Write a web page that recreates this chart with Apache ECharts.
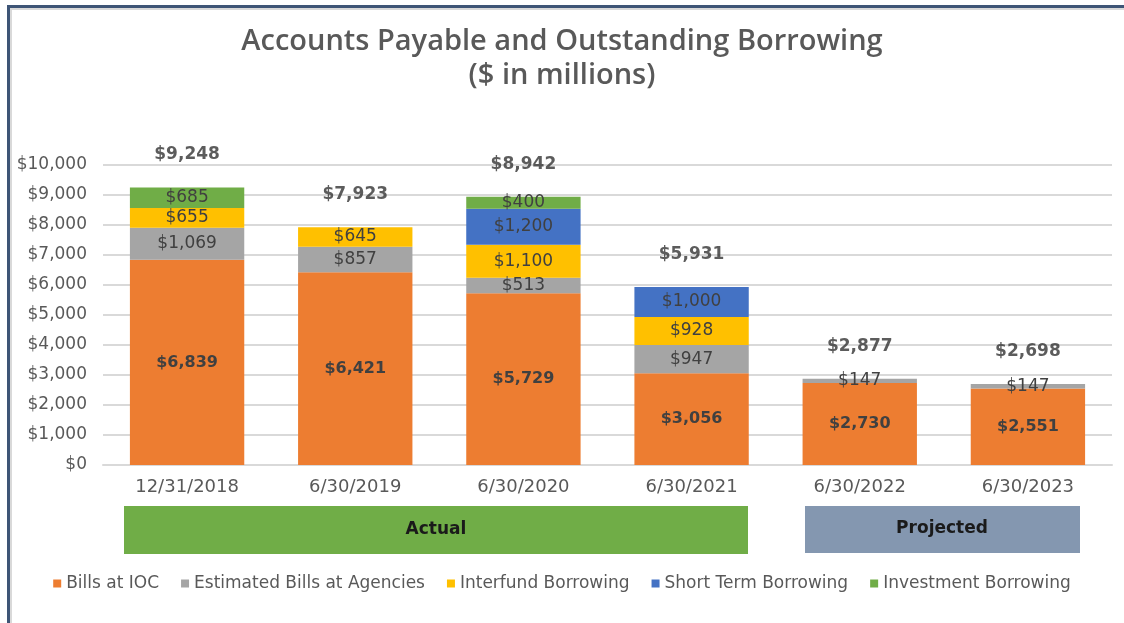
<!DOCTYPE html>
<html>
<head>
<meta charset="utf-8">
<script src="https://cdn.jsdelivr.net/npm/echarts@6/dist/echarts.min.js"></script>
<style>
html,body{margin:0;padding:0;background:#fff;}
#frame{position:absolute;left:7px;top:5px;width:1117px;height:618px;border-left:3px solid #3E5576;border-top:3px solid #3E5576;box-sizing:border-box;}
#frame:after{content:"";position:absolute;left:0;top:0;right:0;bottom:0;border-left:2px solid #d9d9d9;border-top:2px solid #d9d9d9;}
#chart{position:absolute;left:0;top:0;width:1124px;height:623px;}
</style>
</head>
<body>
<div id="frame"></div>
<div id="chart"></div>
<script>
const categories = ['12/31/2018', '6/30/2019', '6/30/2020', '6/30/2021', '6/30/2022', '6/30/2023'];
const seriesNames = ['Bills at IOC', 'Estimated Bills at Agencies', 'Interfund Borrowing', 'Short Term Borrowing', 'Investment Borrowing'];
const billsAtIOC = [6839, 6421, 5729, 3056, 2730, 2551];
const estimatedBillsAtAgencies = [1069, 857, 513, 947, 147, 147];
const interfundBorrowing = [655, 645, 1100, 928, null, null];
const shortTermBorrowing = [null, null, 1200, 1000, null, null];
const investmentBorrowing = [685, null, 400, null, null, null];
const yTicks = [0, 1000, 2000, 3000, 4000, 5000, 6000, 7000, 8000, 9000, 10000];
const periodLabels = ['Actual', 'Projected'];

const colors = ['#ED7D31', '#A5A5A5', '#FFC000', '#4472C4', '#70AD47'];
const allSeries = [billsAtIOC, estimatedBillsAtAgencies, interfundBorrowing, shortTermBorrowing, investmentBorrowing];
const totals = categories.map((c, i) => allSeries.reduce((s, arr) => s + (arr[i] || 0), 0));

const fmt = v => '$' + Number(v).toLocaleString('en-US');
const FONT = 'DejaVu Sans';

const chart = echarts.init(document.getElementById('chart'), null, {renderer: 'canvas'});

const barSeries = allSeries.map((arr, k) => ({
  name: seriesNames[k],
  type: 'bar',
  stack: 'total',
  barWidth: '68%',
  data: arr,
  itemStyle: {color: colors[k]},
  label: {
    show: true,
    position: 'inside',
    formatter: p => p.value == null ? '' : fmt(p.value),
    fontFamily: FONT,
    fontSize: k === 0 ? 16 : 17,
    fontWeight: k === 0 ? 'bold' : 'normal',
    color: '#404040'
  },
  emphasis: {disabled: true},
  animation: false
}));

const option = {
  animation: false,
  title: {
    text: 'Accounts Payable and Outstanding Borrowing\n($ in millions)',
    left: 'center',
    top: 20,
    textStyle: {fontFamily: 'Open Sans', fontSize: 29, fontWeight: 600, color: '#595959', lineHeight: 34}
  },
  legend: {
    bottom: 26,
    left: 'center',
    itemWidth: 8,
    itemHeight: 8,
    itemGap: 22,
    icon: 'rect',
    data: seriesNames,
    textStyle: {fontFamily: FONT, fontSize: 17, color: '#595959'}
  },
  grid: {left: 103, right: 12, top: 165, bottom: 158, containLabel: false},
  xAxis: {
    type: 'category',
    data: categories,
    axisLine: {lineStyle: {color: '#d9d9d9', width: 2}},
    axisTick: {show: false},
    axisLabel: {fontFamily: FONT, fontSize: 18, color: '#595959', margin: 13}
  },
  yAxis: {
    type: 'value',
    min: yTicks[0],
    max: yTicks[yTicks.length - 1],
    interval: 1000,
    axisLine: {show: false},
    axisTick: {show: false},
    splitLine: {lineStyle: {color: '#d9d9d9', width: 2}},
    axisLabel: {fontFamily: FONT, fontSize: 17, color: '#595959', margin: 16, formatter: v => fmt(v)}
  },
  series: barSeries.concat([{
    name: 'Total',
    type: 'scatter',
    data: totals,
    symbolSize: 0,
    silent: true,
    label: {
      show: true,
      position: 'top',
      distance: 24,
      formatter: p => fmt(p.value),
      fontFamily: FONT,
      fontSize: 17,
      fontWeight: 'bold',
      color: '#333333'
    },
    z: 10
  }]),
  graphic: [
    {type: 'rect', shape: {x: 124, y: 506, width: 624, height: 48}, style: {fill: '#70AD47'}},
    {type: 'text', x: 436, y: 530, style: {text: periodLabels[0], font: 'bold 17px "DejaVu Sans"', fill: '#1a1a1a', align: 'center', verticalAlign: 'middle'}},
    {type: 'rect', shape: {x: 805, y: 506, width: 275, height: 47}, style: {fill: '#8497B0'}},
    {type: 'text', x: 942, y: 529, style: {text: periodLabels[1], font: 'bold 17px "DejaVu Sans"', fill: '#1a1a1a', align: 'center', verticalAlign: 'middle'}}
  ]
};
chart.setOption(option);
</script>
</body>
</html>
